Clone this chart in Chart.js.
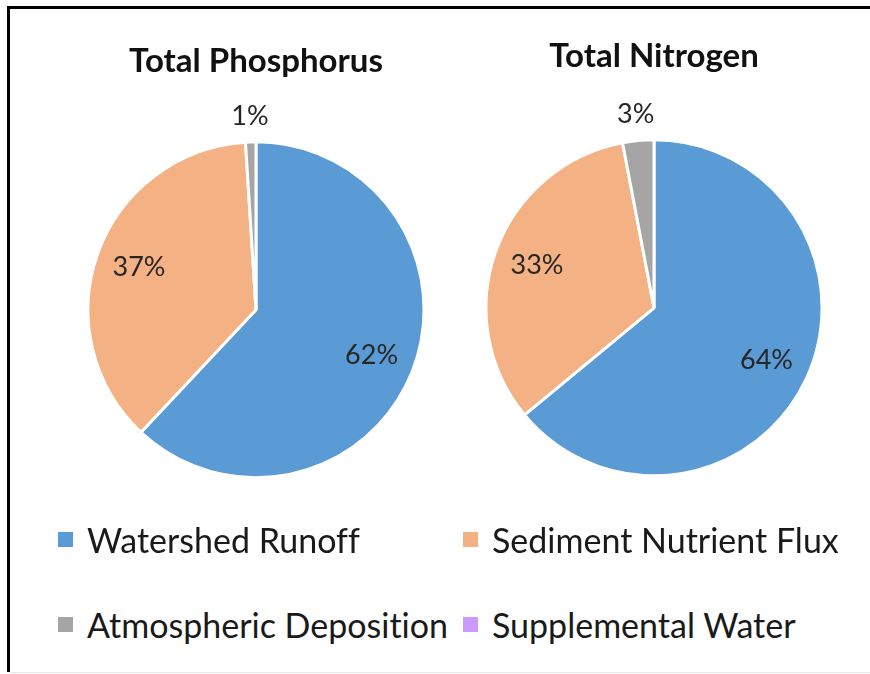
<!DOCTYPE html>
<html>
<head>
<meta charset="utf-8">
<script src="https://cdn.jsdelivr.net/npm/chart.js@4"></script>
<style>
  body { margin: 0; background: #fff; font-family: Lato, "Open Sans", sans-serif; }
  #frame { position: relative; width: 870px; height: 674px; overflow: hidden; }
  #frame:before { content: ''; position: absolute; left: 7px; top: 6px; right: 0; bottom: 2px;
    border-left: 3px solid #000; border-top: 3px solid #000; }
  #frame:after { content: ''; position: absolute; left: 10px; right: 0; bottom: 1px; height: 1px; background: #e6e6e6; }
  .pie { position: absolute; top: 0; }
  #legend { position: absolute; left: 0; top: 0; width: 870px; }
  .item { position: absolute; display: flex; align-items: center; font-size: 34px; color: #1a1a1a;
    white-space: nowrap; font-variant-ligatures: none; }
  .item span.box { display: inline-block; width: 15px; height: 15px; margin-right: 14px; }
</style>
</head>
<body>
<div id="frame">
  <canvas id="phos" class="pie" style="left:40px" width="432" height="538"></canvas>
  <canvas id="nitro" class="pie" style="left:472px" width="364" height="539"></canvas>
  <div id="legend"></div>
</div>
<script>
// categories and colours
const sources = ['Watershed Runoff', 'Sediment Nutrient Flux', 'Atmospheric Deposition', 'Supplemental Water'];
const colors = ['#5B9BD5', '#F4B183', '#A5A5A5', '#CC99FF'];

// percent shares
const phosphorus = [62, 37, 1, 0];
const nitrogen = [64, 33, 3, 0];

// labels inside the big slices, outside the small ones
const pctLabels = {
    id: 'pctLabels',
    afterDatasetsDraw(chart) {
        const c = chart.ctx;
        const vals = chart.data.datasets[0].data;
        const total = vals.reduce((a, b) => a + b, 0);
        chart.getDatasetMeta(0).data.forEach((arc, i) => {
            const v = vals[i];
            if (!v) return;
            const p = arc.getProps(['x', 'y', 'startAngle', 'endAngle', 'outerRadius'], true);
            const mid = (p.startAngle + p.endAngle) / 2;
            const pct = v / total * 100;
            const r = pct >= 5 ? p.outerRadius * 0.74 : p.outerRadius + 26;
            c.save();
            c.font = '27px Lato';
            c.fillStyle = '#262626';
            c.textAlign = 'center';
            c.textBaseline = 'middle';
            c.fillText(Math.round(pct) + '%', p.x + Math.cos(mid) * r, p.y + Math.sin(mid) * r);
            c.restore();
        });
    }
};

function makePie(id, title, values, padTop) {
    new Chart(document.getElementById(id), {
        type: 'pie',
        data: {
            labels: sources,
            datasets: [{
                data: values,
                backgroundColor: colors,
                borderColor: '#ffffff',
                borderWidth: 3,
                radius: 168
            }]
        },
        options: {
            responsive: false,
            animation: false,
            layout: { padding: 0 },
            plugins: {
                legend: { display: false },
                tooltip: { enabled: false },
                title: {
                    display: true,
                    text: title,
                    color: '#111',
                    font: { family: 'Lato', size: 33, weight: 'bold' },
                    padding: { top: padTop, bottom: 0 }
                }
            }
        },
        plugins: [pctLabels]
    });
}

makePie('phos', 'Total Phosphorus', phosphorus, 42);
makePie('nitro', 'Total Nitrogen', nitrogen, 37);

// shared legend, two columns
const legendPos = [[58, 541], [463, 541], [58, 626], [463, 626]];
const legend = document.getElementById('legend');
sources.forEach((s, i) => {
    const d = document.createElement('div');
    d.className = 'item';
    d.style.left = legendPos[i][0] + 'px';
    d.style.top = (legendPos[i][1] - 22) + 'px';
    d.innerHTML = '<span class="box" style="background:' + colors[i] + '"></span>' + s;
    legend.appendChild(d);
});
</script>
</body>
</html>
